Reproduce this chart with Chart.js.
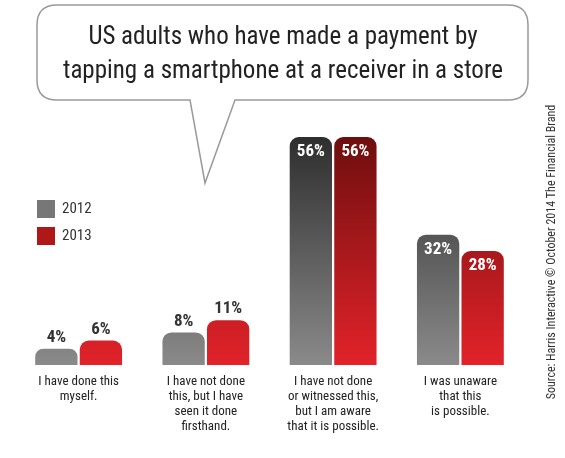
<!DOCTYPE html>
<html><head><meta charset="utf-8">
<script src="https://cdn.jsdelivr.net/npm/chart.js@4"></script>
<style>html,body{margin:0;padding:0;background:#fff}#w{width:565px;height:458px}</style>
</head><body><div id="w"><canvas id="c"></canvas></div>
<script>
const categories = [
  ["I have done this","myself."],
  ["I have not done","this, but I have","seen it done","firsthand."],
  ["I have not done","or witnessed this,","but I am aware","that it is possible."],
  ["I was unaware","that this","is possible."]
];
const values2012 = [4, 8, 56, 32];
const values2013 = [6, 11, 56, 28];
const seriesNames = ["2012", "2013"];
const titleLines = ["US adults who have made a payment by","tapping a smartphone at a receiver in a store"];
const sourceText = "Source: Harris Interactive \u00a9 October 2014 The Financial Brand";
const FONT = "'Liberation Sans Narrow','Roboto Condensed',Roboto,sans-serif";

function grad(ctx, top, bot){
  const c = ctx.chart, a = c.chartArea;
  if(!a) return top;
  const g = c.ctx.createLinearGradient(0, a.top, 0, a.bottom);
  g.addColorStop(0, top); g.addColorStop(1, bot); return g;
}

const deco = {
  id:'deco',
  beforeDraw(chart){
    const ctx = chart.ctx;
    ctx.save();
    // speech bubble
    const x0=37,y0=5,x1=528,y1=100,r=20;
    ctx.beginPath();
    ctx.moveTo(x0+r,y0); ctx.lineTo(x1-r,y0); ctx.quadraticCurveTo(x1,y0,x1,y0+r);
    ctx.lineTo(x1,y1-r); ctx.quadraticCurveTo(x1,y1,x1-r,y1);
    ctx.lineTo(235,y1); ctx.lineTo(205,183); ctx.lineTo(190,y1);
    ctx.lineTo(x0+r,y1); ctx.quadraticCurveTo(x0,y1,x0,y1-r);
    ctx.lineTo(x0,y0+r); ctx.quadraticCurveTo(x0,y0,x0+r,y0); ctx.closePath();
    ctx.fillStyle='#fff'; ctx.fill(); ctx.strokeStyle='#9a9a9a'; ctx.lineWidth=1.5; ctx.stroke();
    ctx.fillStyle='#222'; ctx.font='25px '+FONT; ctx.textAlign='center'; ctx.textBaseline='middle';
    ctx.fillText(titleLines[0],283,38); ctx.fillText(titleLines[1],283,72);
    // legend
    const cols=['#777','#b01818'];
    seriesNames.forEach((n,i)=>{
      ctx.fillStyle=cols[i]; ctx.fillRect(37,200+i*27,18,18);
      ctx.fillStyle='#333'; ctx.font='15px '+FONT; ctx.textAlign='left';
      ctx.fillText(n,62,209+i*27);
    });
    // source
    ctx.translate(552,252); ctx.rotate(-Math.PI/2);
    ctx.fillStyle='#333'; ctx.font='12px '+FONT; ctx.textAlign='center';
    ctx.fillText(sourceText,0,0);
    ctx.restore();
  },
  afterDatasetsDraw(chart){
    const ctx=chart.ctx; ctx.save();
    ctx.font='bold 17px '+FONT; ctx.textAlign='center'; ctx.textBaseline='middle';
    chart.data.datasets.forEach((ds,di)=>{
      chart.getDatasetMeta(di).data.forEach((bar,i)=>{
        const v=ds.data[i];
        if(v>=20){ctx.fillStyle='#fff'; ctx.fillText(v+'%',bar.x,bar.y+15);}
        else {ctx.fillStyle='#333'; ctx.fillText(v+'%',bar.x,bar.y-11);}
      });
    });
    // category labels
    const xs=chart.scales.x;
    ctx.font='13px '+FONT; ctx.fillStyle='#222';
    categories.forEach((lines,i)=>{
      const x=xs.getPixelForValue(i);
      lines.forEach((l,j)=>ctx.fillText(l,x,382+j*15));
    });
    ctx.restore();
  }
};

new Chart(document.getElementById('c'),{
  type:'bar',
  data:{labels:categories.map(c=>c.join(' ')),datasets:[
    {label:seriesNames[0],data:values2012,backgroundColor:c=>grad(c,'#2e2e2e','#8a8a8a'),borderRadius:{topLeft:9,topRight:9},borderSkipped:'start',categoryPercentage:0.7,barPercentage:0.95},
    {label:seriesNames[1],data:values2013,backgroundColor:c=>grad(c,'#6e0e0e','#e2232a'),borderRadius:{topLeft:9,topRight:9},borderSkipped:'start',categoryPercentage:0.7,barPercentage:0.95}
  ]},
  options:{responsive:true,maintainAspectRatio:false,animation:false,
    layout:{padding:{left:15,right:41,top:137,bottom:93}},
    plugins:{legend:{display:false},tooltip:{enabled:false}},
    scales:{x:{display:false},y:{display:false,min:0,max:56}}
  },
  plugins:[deco]
});
</script></body></html>
